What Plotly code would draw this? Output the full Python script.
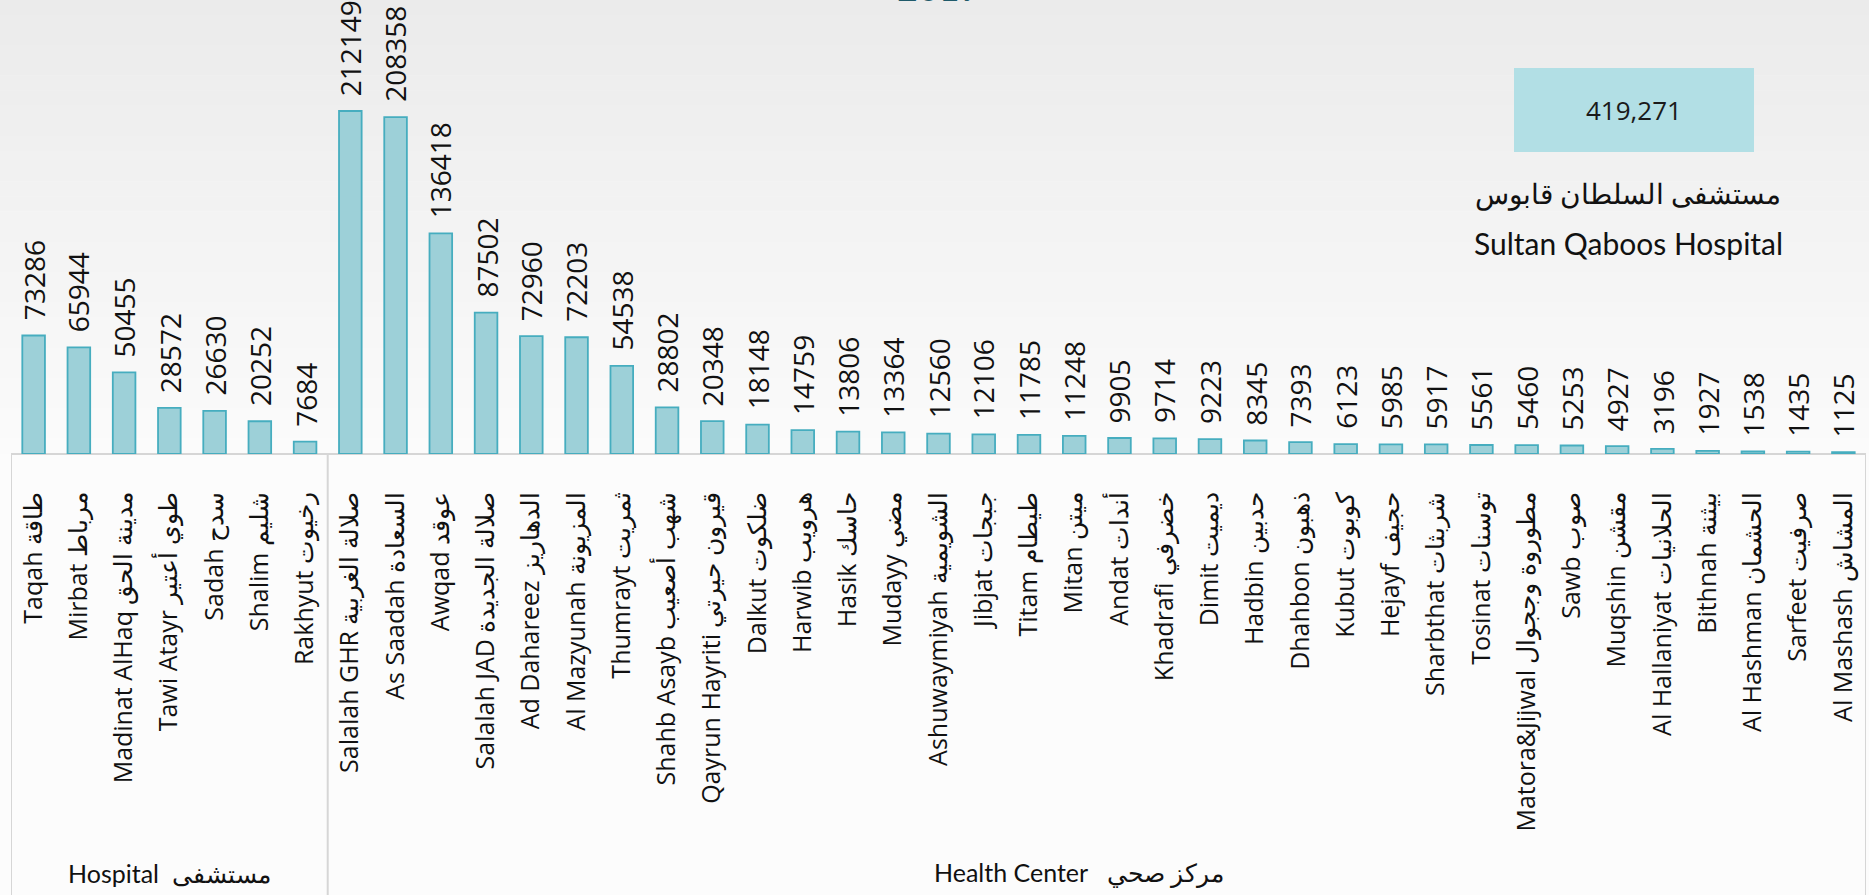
import plotly.graph_objects as go

# ---------------- data ----------------
hospital_names = [
    "Taqah طاقة", "Mirbat مرباط", "Madinat AlHaq مدينة الحق", "Tawi Atayr طوي أعتير",
    "Sadah سدح", "Shalim شليم", "Rakhyut رخيوت",
]
hospital_values = [73286, 65944, 50455, 28572, 26630, 20252, 7684]

center_names = [
    "Salalah GHR صلالة الغربية", "As Saadah السعادة", "Awqad عوقد", "Salalah JAD صلالة الجديدة",
    "Ad Dahareez الدهاريز", "Al Mazyunah المزيونة", "Thumrayt ثمريت", "Shahb Asayb شهب أصعيب",
    "Qayrun Hayriti قيرون حيرتي", "Dalkut ضلكوت", "Harwib هرويب", "Hasik حاسك",
    "Mudayy مضي", "Ashuwaymiyah الشويمية", "Jibjat جبجات", "Titam طيطام",
    "Mitan ميتن", "Andat أندات", "Khadrafi خضرفي", "Dimit ديميت",
    "Hadbin حدبين", "Dhahbon ذهبون", "Kubut كوبوت", "Hejayf حجيف",
    "Sharbthat شربثات", "Tosinat توسنات", "Matora&Jijwal مطوروة وججوال", "Sawb صوب",
    "Muqshin مقشن", "Al Hallaniyat الحلانيات", "Bithnah بيثنة", "Al Hashman الحشمان",
    "Sarfeet صرفيت", "Al Mashash المشاش",
]
center_values = [
    212149, 208358, 136418, 87502, 72960, 72203, 54538, 28802,
    20348, 18148, 14759, 13806, 13364, 12560, 12106, 11785,
    11248, 9905, 9714, 9223, 8345, 7393, 6123, 5985,
    5917, 5561, 5460, 5253, 4927, 3196, 1927, 1538, 1435, 1125,
]

group_labels = ["Hospital  مستشفى", "Health Center   مركز صحي"]
title_text = "2019"
sqh_value = "419,271"
sqh_name_ar = "مستشفى السلطان قابوس"
sqh_name_en = "Sultan Qaboos Hospital"

categories = hospital_names + center_names
values = hospital_values + center_values
n = len(categories)
idx = list(range(n))

# ---------------- layout geometry ----------------
W, H = 1869, 895
ML, MR, MT, MB = 11, 3, 0, 441
PH = H - MT - MB  # plot height in px
YMAX = 280800

fig = go.Figure()

fig.add_trace(go.Bar(
    x=idx, y=values,
    marker=dict(color="#9dd0d8", line=dict(color="#46adbf", width=1.8)),
    width=0.5,
    hoverinfo="skip",
))

shapes = []
# background gradient (top grey -> near white)
nb = 30
top_c = (235, 235, 235)
bot_c = (251, 251, 251)
for i in range(nb):
    t = i / (nb - 1)
    c = tuple(round(top_c[k] + (bot_c[k] - top_c[k]) * t) for k in range(3))
    y1 = 1 - i / nb
    y0 = 1 - (i + 1) / nb
    shapes.append(dict(type="rect", xref="paper", yref="paper", x0=-0.05, x1=1.05,
                       y0=y0, y1=y1 + 0.001, fillcolor="rgb(%d,%d,%d)" % c,
                       line=dict(width=0), layer="below"))
shapes.append(dict(type="rect", xref="paper", yref="paper", x0=-0.05, x1=1.05,
                   y0=-MB / PH - 0.05, y1=0, fillcolor="#fcfcfc",
                   line=dict(width=0), layer="below"))

# category box lines
box_bottom = -MB / PH
line_style = dict(color="#d6d6d6", width=2)
for xv in [-0.5, len(hospital_names) - 0.5, n - 0.5]:
    shapes.append(dict(type="line", xref="x", yref="paper", x0=xv, x1=xv,
                       y0=0, y1=box_bottom, line=line_style, layer="above"))
shapes.append(dict(type="line", xref="x", yref="paper", x0=-0.5, x1=n - 0.5,
                   y0=0, y1=0, line=line_style, layer="below"))


def px_x(p):
    return (p - ML) / (W - ML - MR)


def px_y(p):
    return (PH - (p - MT)) / PH


# Sultan Qaboos box
shapes.append(dict(type="rect", xref="paper", yref="paper",
                   x0=px_x(1514), x1=px_x(1754), y0=px_y(152), y1=px_y(68),
                   fillcolor="#b2dfe5", line=dict(width=0), layer="above"))

annotations = []
for i, v in zip(idx, values):
    annotations.append(dict(x=i, y=v, xref="x", yref="y", text=str(v), textangle=-90,
                            showarrow=False, yanchor="bottom", xanchor="center", yshift=13,
                            font=dict(family="Open Sans", size=28, color="#111111")))

annotations.append(dict(x=(len(hospital_names) - 1) / 2, y=px_y(873), xref="x", yref="paper",
                        text=group_labels[0], showarrow=False, xanchor="center", yanchor="middle",
                        font=dict(family="Lato", size=25, color="#111111")))
annotations.append(dict(x=(len(hospital_names) + n - 1) / 2 - 0.4, y=px_y(873), xref="x", yref="paper",
                        text=group_labels[1], showarrow=False, xanchor="center", yanchor="middle",
                        font=dict(family="Lato", size=25, color="#111111")))

annotations.append(dict(x=0.5, y=1, xref="paper", yref="paper", text=title_text,
                        showarrow=False, xanchor="center", yanchor="bottom", yshift=-11,
                        font=dict(family="Lato", size=36, color="#1f5a6a")))

annotations.append(dict(x=px_x(1634), y=px_y(110), xref="paper", yref="paper", text=sqh_value,
                        showarrow=False, xanchor="center", yanchor="middle",
                        font=dict(family="Open Sans", size=26, color="#1a1a1a")))
annotations.append(dict(x=px_x(1628), y=px_y(193), xref="paper", yref="paper", text=sqh_name_ar,
                        showarrow=False, xanchor="center", yanchor="middle",
                        font=dict(family="Lato", size=28, color="#111111")))
annotations.append(dict(x=px_x(1628), y=px_y(243), xref="paper", yref="paper", text=sqh_name_en,
                        showarrow=False, xanchor="center", yanchor="middle",
                        font=dict(family="Lato", size=30, color="#111111")))

fig.update_layout(
    width=W, height=H,
    margin=dict(l=ML, r=MR, t=MT, b=MB, autoexpand=False),
    paper_bgcolor="white",
    plot_bgcolor="rgba(0,0,0,0)",
    showlegend=False,
    bargap=0.5,
    shapes=shapes,
    annotations=annotations,
    xaxis=dict(
        tickmode="array", tickvals=idx, ticktext=categories, tickangle=-90,
        range=[-0.5, n - 0.5], showgrid=False, zeroline=False, showline=False,
        ticks="", ticklabelstandoff=32, automargin=False,
        tickfont=dict(family="Open Sans", size=25, color="#111111"),
    ),
    yaxis=dict(range=[0, YMAX], showgrid=False, zeroline=False, showline=False,
               showticklabels=False, ticks=""),
)

fig.write_html("out.html", config={"displayModeBar": False},
               post_script="document.body.style.margin='0px';document.body.style.overflow='hidden';")
